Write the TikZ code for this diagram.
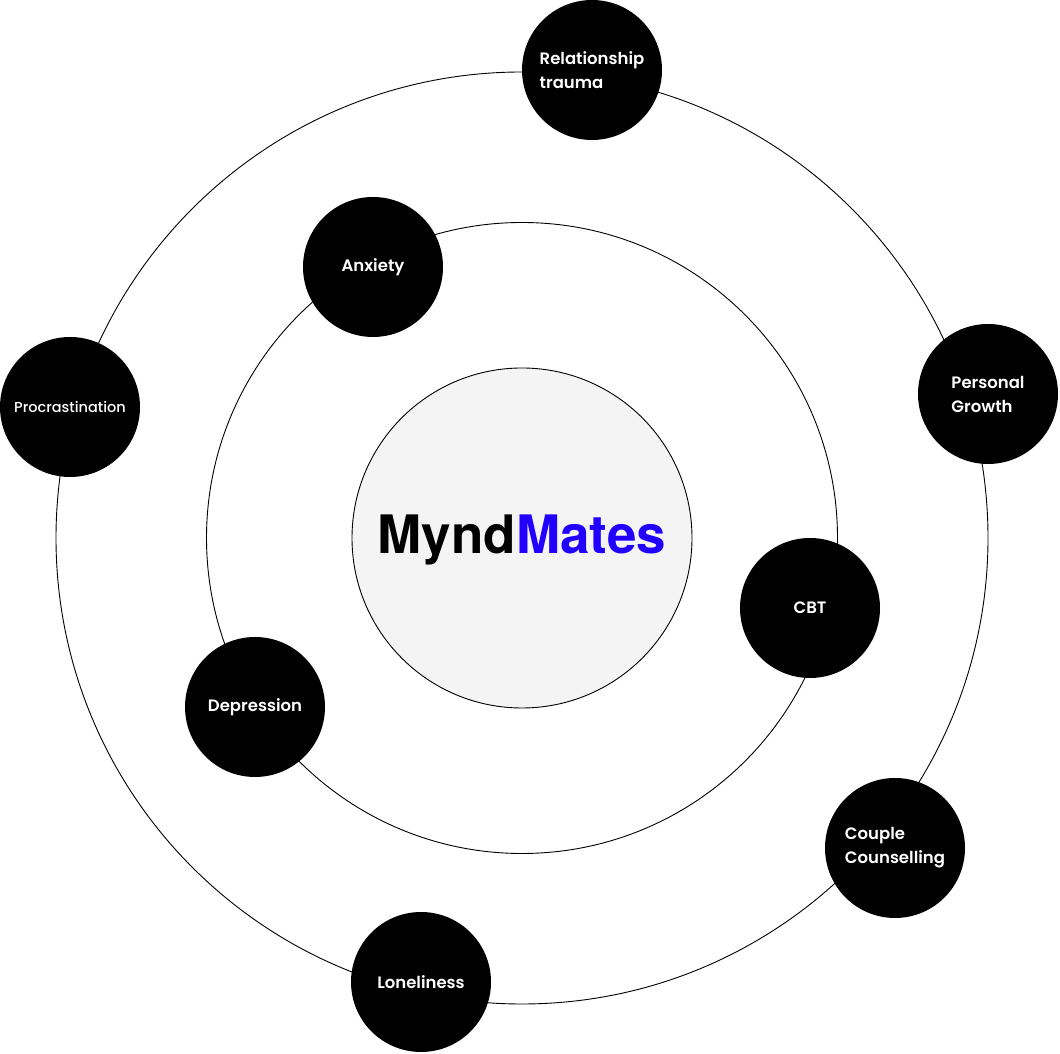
\documentclass[tikz,border=0pt]{standalone}
\usepackage{fontspec}
\setmainfont{Poppins}[BoldFont={Poppins SemiBold}]
\newfontfamily\popmed{Poppins Medium}
\newfontfamily\brand{TeX Gyre Heros}
\definecolor{brandblue}{RGB}{34,0,255}
\definecolor{corefill}{RGB}{244,244,244}
\begin{document}
\begin{tikzpicture}[x=1pt,y=1pt,
  ring/.style={draw=black,line width=0.9pt},
  topic/.style={circle,fill=black,minimum size=140pt,inner sep=0pt,text=white,font=\fontsize{16.5}{24}\selectfont\bfseries,align=left},
  topiclight/.style={topic,font=\popmed\fontsize{14.5}{20}\selectfont}
]
\useasboundingbox (0,0) rectangle (1060,1054);
% y = 1054 - pixel y
\coordinate (c) at (522,516);
\draw[ring] (c) circle[radius=466];
\draw[ring] (c) circle[radius=315.5];
\node[circle,draw=black,line width=0.9pt,fill=corefill,minimum size=340pt,inner sep=0pt] (core) at (c) {};
\node[font=\brand\fontsize{53}{60}\selectfont\bfseries] (brand) at (522,514) {Mynd\textcolor{brandblue}{Mates}};
\node[topic] (rel) at (592,984) {Relationship\\trauma};
\node[topic] (pg) at (988,660) {Personal\\Growth};
\node[topiclight] (proc) at (70,647) {Procrastination};
\node[topic] (anx) at (373,787) {Anxiety};
\node[topic] (cbt) at (810,446) {CBT};
\node[topic] (dep) at (255,347) {Depression};
\node[topic] (cc) at (895,206) {Couple\\Counselling};
\node[topic] (lon) at (421,72) {Loneliness};
\end{tikzpicture}
\end{document}
